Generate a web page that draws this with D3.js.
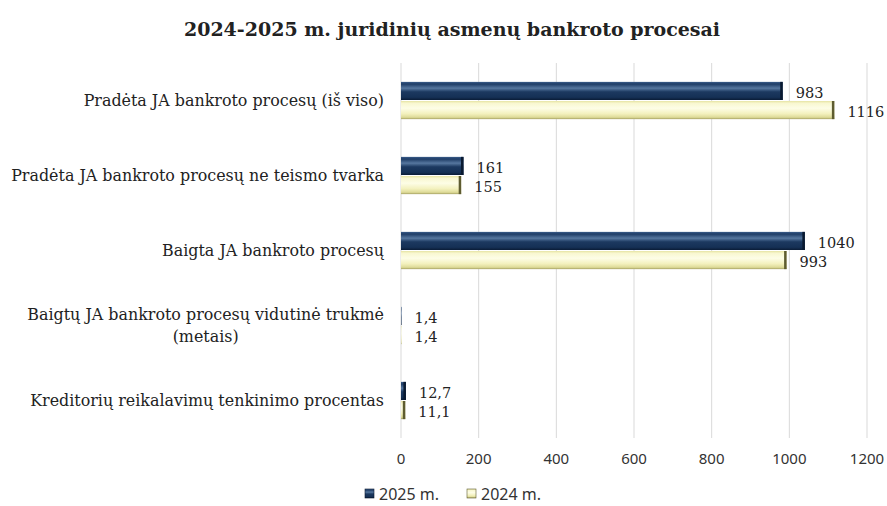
<!DOCTYPE html>
<html>
<head>
<meta charset="utf-8">
<script src="https://cdn.jsdelivr.net/npm/d3@7"></script>
<style>
  body { margin: 0; background: #fff; }
  svg text { font-family: "DejaVu Serif", "Liberation Serif", serif; fill: #222; }
  svg text.sans { font-family: "Noto Sans", "Open Sans", sans-serif; fill: #333; }
</style>
</head>
<body>
<svg id="chart" width="887" height="506"></svg>
<script>
// data
var categories = [
  ["Pradėta JA bankroto procesų (iš viso)"],
  ["Pradėta JA bankroto procesų ne teismo tvarka"],
  ["Baigta JA bankroto procesų"],
  ["Baigtų JA bankroto procesų vidutinė trukmė", "(metais)"],
  ["Kreditorių reikalavimų tenkinimo procentas"]
];
var series = ["2025 m.", "2024 m."];
var values2025 = [983, 161, 1040, 1.4, 12.7];
var values2024 = [1116, 155, 993, 1.4, 11.1];
var xTicks = [0, 200, 400, 600, 800, 1000, 1200];

var svg = d3.select("#chart");
var fmt = function(v) { return String(v).replace(".", ","); };

var x = d3.scaleLinear().domain([0, 1200]).range([401, 867]);
var y = d3.scaleBand().domain(d3.range(categories.length)).range([63, 438]).paddingInner(0.49).paddingOuter(0.245);
var y1 = d3.scaleBand().domain([0, 1]).range([0, y.bandwidth()]);

// gradients for the bevelled bars
var defs = svg.append("defs");
function grad(id, stops) {
  var g = defs.append("linearGradient").attr("id", id)
    .attr("x1", 0).attr("y1", 0).attr("x2", 0).attr("y2", 1);
  stops.forEach(function(s) {
    g.append("stop").attr("offset", s[0]).attr("stop-color", s[1]);
  });
}
grad("gNavy", [[0, "#3a5c8a"], [0.12, "#1f3d66"], [0.35, "#56779f"], [0.55, "#1c3960"], [0.85, "#153055"], [1, "#0a1c36"]]);
grad("gYellow", [[0, "#e6e3a2"], [0.12, "#f8f7d0"], [0.4, "#fdfde6"], [0.7, "#f3f1be"], [0.9, "#dedb98"], [1, "#a5a162"]]);

// gridlines
svg.append("g").selectAll("line").data(xTicks).join("line")
  .attr("x1", d => x(d)).attr("x2", d => x(d))
  .attr("y1", 63).attr("y2", 438)
  .attr("stroke", "#d9d9d9").attr("stroke-width", 1);

// x tick labels
svg.append("g").selectAll("text").data(xTicks).join("text")
  .attr("class", "sans")
  .attr("x", d => x(d)).attr("y", 459)
  .attr("dy", "0.35em")
  .attr("text-anchor", "middle")
  .style("font-size", "15px")
  .text(d => d);

// bars
var rows = categories.map(function(c, i) {
  return [
    { s: 0, v: values2025[i], i: i },
    { s: 1, v: values2024[i], i: i }
  ];
});
var fills = ["url(#gNavy)", "url(#gYellow)"];
var caps = ["#0a1a30", "#5e5c30"];

var g = svg.append("g").selectAll("g").data(rows).join("g")
  .attr("transform", (d, i) => "translate(0," + y(i) + ")");

g.selectAll("rect.bar").data(d => d).join("rect")
  .attr("class", "bar")
  .attr("x", x(0))
  .attr("y", d => y1(d.s) + 0.5)
  .attr("width", d => Math.max(0, x(d.v) - x(0)))
  .attr("height", y1.bandwidth() - 1)
  .attr("fill", d => fills[d.s]);

g.selectAll("rect.cap").data(d => d.filter(e => x(e.v) - x(0) > 2)).join("rect")
  .attr("class", "cap")
  .attr("x", d => x(d.v) - 2.5)
  .attr("y", d => y1(d.s) + 0.5)
  .attr("width", 2.5)
  .attr("height", y1.bandwidth() - 1)
  .attr("fill", d => caps[d.s]);

g.selectAll("text").data(d => d).join("text")
  .attr("x", d => x(d.v) + 13)
  .attr("y", d => y1(d.s) + y1.bandwidth() / 2 + 2)
  .attr("dy", "0.35em")
  .style("font-size", "14.5px")
  .text(d => fmt(d.v));

// category labels
svg.append("g").selectAll("g").data(categories).join("g")
  .each(function(lines, i) {
    var cy = y(i) + y.bandwidth() / 2;
    var sel = d3.select(this);
    if (lines.length === 1) {
      sel.append("text").attr("x", 384).attr("y", cy).attr("dy", "0.35em")
        .attr("text-anchor", "end").style("font-size", "15.9px").text(lines[0]);
    } else {
      var t1 = sel.append("text").attr("x", 384).attr("y", cy - 11).attr("dy", "0.35em")
        .attr("text-anchor", "end").style("font-size", "15.9px").text(lines[0]);
      var w = t1.node().getComputedTextLength();
      sel.append("text").attr("x", 384 - w / 2).attr("y", cy + 11).attr("dy", "0.35em")
        .attr("text-anchor", "middle").style("font-size", "15.9px").text(lines[1]);
    }
  });

// title
svg.append("text")
  .attr("x", 452).attr("y", 36)
  .attr("text-anchor", "middle")
  .style("font-size", "19px").style("font-weight", "bold")
  .text("2024-2025 m. juridinių asmenų bankroto procesai");

// legend
var legendX = [365, 467];
var lg = svg.append("g").selectAll("g").data(series).join("g")
  .attr("transform", (d, i) => "translate(" + legendX[i] + ",489)");
lg.append("rect").attr("width", 9).attr("height", 9)
  .attr("fill", (d, i) => fills[i]).attr("stroke", (d, i) => caps[i]).attr("stroke-width", 0.6);
lg.append("text").attr("class", "sans").attr("x", 14).attr("y", 5).attr("dy", "0.35em")
  .style("font-size", "16px").text(d => d);
</script>
</body>
</html>
